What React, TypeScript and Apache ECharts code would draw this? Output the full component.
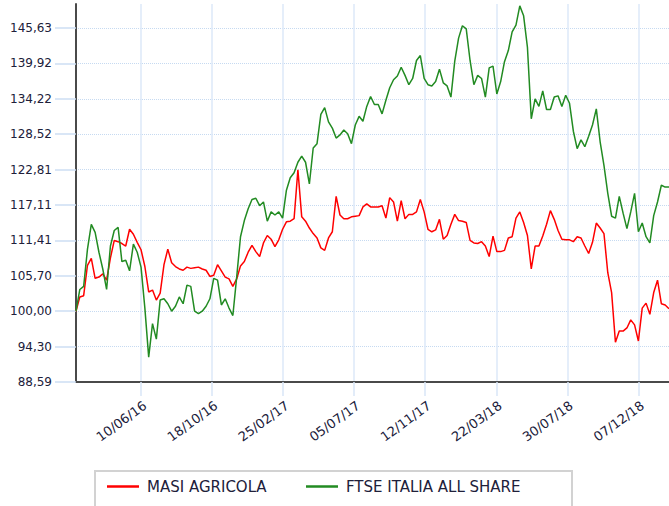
import React, { useEffect, useRef } from 'react';
import * as echarts from 'echarts';

// Weekly observation dates (Fridays)
const dates: string[] = [
  '2016-02-12','2016-02-19','2016-02-26','2016-03-04','2016-03-11','2016-03-18','2016-03-25','2016-04-01','2016-04-08','2016-04-15',
  '2016-04-22','2016-04-29','2016-05-06','2016-05-13','2016-05-20','2016-05-27','2016-06-03','2016-06-10','2016-06-17','2016-06-24',
  '2016-07-01','2016-07-08','2016-07-15','2016-07-22','2016-07-29','2016-08-05','2016-08-12','2016-08-19','2016-08-26','2016-09-02',
  '2016-09-09','2016-09-16','2016-09-23','2016-09-30','2016-10-07','2016-10-14','2016-10-21','2016-10-28','2016-11-04','2016-11-11',
  '2016-11-18','2016-11-25','2016-12-02','2016-12-09','2016-12-16','2016-12-23','2016-12-30','2017-01-06','2017-01-13','2017-01-20',
  '2017-01-27','2017-02-03','2017-02-10','2017-02-17','2017-02-24','2017-03-03','2017-03-10','2017-03-17','2017-03-24','2017-03-31',
  '2017-04-07','2017-04-14','2017-04-21','2017-04-28','2017-05-05','2017-05-12','2017-05-19','2017-05-26','2017-06-02','2017-06-09',
  '2017-06-16','2017-06-23','2017-06-30','2017-07-07','2017-07-14','2017-07-21','2017-07-28','2017-08-04','2017-08-11','2017-08-18',
  '2017-08-25','2017-09-01','2017-09-08','2017-09-15','2017-09-22','2017-09-29','2017-10-06','2017-10-13','2017-10-20','2017-10-27',
  '2017-11-03','2017-11-10','2017-11-17','2017-11-24','2017-12-01','2017-12-08','2017-12-15','2017-12-22','2017-12-29','2018-01-05',
  '2018-01-12','2018-01-19','2018-01-26','2018-02-02','2018-02-09','2018-02-16','2018-02-23','2018-03-02','2018-03-09','2018-03-16',
  '2018-03-23','2018-03-30','2018-04-06','2018-04-13','2018-04-20','2018-04-27','2018-05-04','2018-05-11','2018-05-18','2018-05-25',
  '2018-06-01','2018-06-08','2018-06-15','2018-06-22','2018-06-29','2018-07-06','2018-07-13','2018-07-20','2018-07-27','2018-08-03',
  '2018-08-10','2018-08-17','2018-08-24','2018-08-31','2018-09-07','2018-09-14','2018-09-21','2018-09-28','2018-10-05','2018-10-12',
  '2018-10-19','2018-10-26','2018-11-02','2018-11-09','2018-11-16','2018-11-23','2018-11-30','2018-12-07','2018-12-14','2018-12-21',
  '2018-12-28','2019-01-04','2019-01-11','2019-01-18','2019-01-25','2019-02-01',
];

const masiValues: number[] = [
  100.0, 102.3, 102.5, 107.4, 108.5, 105.3, 105.5, 106.0, 105.0, 108.6,
  111.4, 111.2, 110.9, 110.5, 113.2, 112.4, 111.1, 109.9, 107.2, 103.1,
  103.4, 101.8, 102.9, 107.5, 110.0, 107.8, 107.2, 106.8, 106.6, 107.1,
  106.9, 107.0, 107.1, 106.8, 106.6, 105.6, 105.8, 107.5, 106.5, 105.5,
  105.2, 104.0, 105.2, 107.3, 108.0, 109.5, 110.6, 109.6, 108.8, 111.0,
  112.2, 111.6, 110.4, 111.5, 113.2, 114.4, 114.5, 114.9, 122.8, 115.2,
  114.5, 113.4, 112.5, 111.8, 110.2, 109.8, 111.8, 112.8, 118.5, 115.5,
  114.9, 114.9, 115.2, 115.3, 115.4, 116.8, 117.3, 116.8, 116.8, 116.8,
  117.0, 115.0, 118.3, 117.6, 114.5, 117.8, 114.9, 115.6, 115.6, 116.0,
  118.0, 116.0, 113.2, 112.8, 113.1, 114.8, 111.6, 112.2, 114.0, 115.6,
  114.6, 114.5, 114.3, 111.4, 111.0, 110.9, 111.2, 110.5, 108.8, 112.1,
  109.6, 109.6, 109.8, 111.8, 112.0, 115.0, 116.0, 114.3, 112.2, 106.8,
  110.5, 110.5, 112.1, 114.0, 116.2, 114.8, 113.0, 111.6, 111.5, 111.5,
  111.2, 112.0, 111.8, 110.5, 109.3, 111.1, 114.2, 113.4, 112.5, 106.2,
  103.0, 95.0, 96.8, 96.8, 97.3, 98.6, 97.8, 95.2, 100.5, 101.3,
  99.5, 103.0, 105.0, 101.2, 101.0, 100.4,
];

const ftseValues: number[] = [
  100.0, 103.5, 104.0, 110.0, 114.0, 112.7, 109.5, 106.8, 103.5, 110.5,
  113.0, 113.5, 108.0, 108.2, 106.5, 110.8, 109.5, 107.1, 100.5, 92.6,
  98.0, 95.5, 101.8, 102.0, 101.2, 100.0, 100.8, 102.3, 101.2, 104.2,
  104.0, 100.0, 99.6, 100.0, 100.8, 102.0, 105.3, 105.0, 101.0, 102.0,
  100.5, 99.3, 105.5, 112.0, 114.6, 116.5, 118.0, 118.2, 117.0, 117.6,
  114.5, 116.0, 115.5, 116.0, 115.0, 119.5, 121.5, 122.3, 124.0, 125.0,
  124.0, 120.5, 126.3, 127.0, 131.7, 132.8, 130.5, 129.5, 127.9, 128.4,
  129.2, 128.6, 127.0, 130.0, 131.4, 130.6, 133.0, 134.6, 133.3, 133.3,
  131.8, 134.0, 136.0, 137.3, 137.9, 139.3, 138.0, 136.5, 137.5, 140.4,
  141.2, 137.5, 136.5, 136.3, 137.0, 139.0, 136.8, 136.3, 134.5, 140.3,
  144.0, 146.0, 145.5, 140.4, 136.5, 138.0, 137.5, 134.5, 139.2, 139.5,
  135.0, 137.0, 140.2, 142.0, 145.0, 146.1, 149.2, 147.6, 142.5, 131.0,
  134.2, 133.0, 135.5, 132.5, 132.5, 134.5, 134.7, 133.0, 134.8, 133.5,
  129.0, 126.2, 127.6, 126.5, 128.2, 130.0, 132.6, 127.3, 123.5, 119.0,
  115.3, 115.0, 118.5, 115.8, 113.3, 116.0, 119.0, 112.8, 114.2, 112.0,
  111.0, 115.4, 117.6, 120.3, 120.0, 120.0,
];

const seriesNames = ['MASI AGRICOLA', 'FTSE ITALIA ALL SHARE'];
const seriesColors = ['#ff0000', '#228b22'];

const yTickValues = [88.59, 94.30, 100.00, 105.70, 111.41, 117.11, 122.81, 128.52, 134.22, 139.92, 145.63];
const yTickLabels = ['88,59', '94,30', '100,00', '105,70', '111,41', '117,11', '122,81', '128,52', '134,22', '139,92', '145,63'];
const xTickDates = ['2016-06-10', '2016-10-18', '2017-02-25', '2017-07-05', '2017-11-12', '2018-03-22', '2018-07-30', '2018-12-07'];
const xTickLabels = ['10/06/16', '18/10/16', '25/02/17', '05/07/17', '12/11/17', '22/03/18', '30/07/18', '07/12/18'];
const xStart = '2016-02-12';
const xEnd = '2019-02-01';
const yMin = 88.59;
const yMax = 149.5;

const ts = (d: string) => Date.UTC(+d.slice(0, 4), +d.slice(5, 7) - 1, +d.slice(8, 10));

export default function App() {
  const ref = useRef<HTMLDivElement>(null);
  useEffect(() => {
    if (!ref.current) return;
    const chart = echarts.init(ref.current, undefined, { renderer: 'svg' });
    const xTickTs = xTickDates.map(ts);
    const labelColor = '#20203a';
    const font = 'DejaVu Sans';
    chart.setOption({
      animation: false,
      backgroundColor: '#ffffff',
      grid: { left: 76, top: 4, right: 0, bottom: 124, containLabel: false },
      xAxis: {
        type: 'value',
        min: ts(xStart),
        max: ts(xEnd),
        axisLine: { show: true, onZero: false, lineStyle: { color: '#4a4a4a', width: 2 } },
        axisTick: { show: true, length: 14, customValues: xTickTs, lineStyle: { color: '#d8e6f7', width: 1.5 } },
        axisLabel: {
          customValues: xTickTs,
          rotate: 36,
          margin: 25,
          padding: [0, -5, 0, 0],
          color: labelColor,
          fontFamily: font,
          fontSize: 13,
          formatter: (v: number) => {
            const i = xTickTs.findIndex((t) => Math.abs(t - v) < 43200000);
            return i >= 0 ? xTickLabels[i] : '';
          },
        },
        splitLine: { show: true, lineStyle: { color: '#dde9f8', width: 1.5 } },
      },
      yAxis: {
        type: 'value',
        min: yMin,
        max: yMax,
        axisLine: { show: true, onZero: false, lineStyle: { color: '#4a4a4a', width: 2 } },
        axisTick: { show: true, length: 21, customValues: yTickValues, lineStyle: { color: '#cddef3', width: 1.5 } },
        axisLabel: {
          customValues: yTickValues,
          margin: 24,
          color: labelColor,
          fontFamily: font,
          fontSize: 12,
          formatter: (v: number) => {
            const i = yTickValues.findIndex((t) => Math.abs(t - v) < 0.01);
            return i >= 0 ? yTickLabels[i] : '';
          },
        },
        splitLine: { show: true, lineStyle: { color: '#c6daf1', width: 1, type: 'dotted' } },
      },
      legend: [
        {
          data: [seriesNames[0]],
          left: 107,
          top: 479,
          padding: 0,
          icon: 'rect',
          itemWidth: 32,
          itemHeight: 2.5,
          textStyle: { fontFamily: font, fontSize: 15, color: labelColor, padding: [0, 0, 0, 3] },
        },
        {
          data: [seriesNames[1]],
          left: 306,
          top: 479,
          padding: 0,
          icon: 'rect',
          itemWidth: 32,
          itemHeight: 2.5,
          textStyle: { fontFamily: font, fontSize: 15, color: labelColor, padding: [0, 0, 0, 3] },
        },
      ],
      graphic: [
        {
          type: 'rect',
          silent: true,
          z: -1,
          shape: { x: 95, y: 471, width: 477, height: 60 },
          style: { fill: 'transparent', stroke: '#d2d2d2', lineWidth: 2 },
        },
      ],
      series: [
        {
          name: seriesNames[0],
          type: 'line',
          data: dates.map((d, i) => [ts(d), masiValues[i]]),
          showSymbol: false,
          color: seriesColors[0],
          lineStyle: { color: seriesColors[0], width: 1.5 },
        },
        {
          name: seriesNames[1],
          type: 'line',
          data: dates.map((d, i) => [ts(d), ftseValues[i]]),
          showSymbol: false,
          color: seriesColors[1],
          lineStyle: { color: seriesColors[1], width: 1.5 },
        },
      ],
    });
    return () => chart.dispose();
  }, []);
  return (
    <div
      ref={ref}
      style={{ position: 'fixed', left: 0, top: 0, width: 669, height: 506, background: '#fff' }}
    />
  );
}
